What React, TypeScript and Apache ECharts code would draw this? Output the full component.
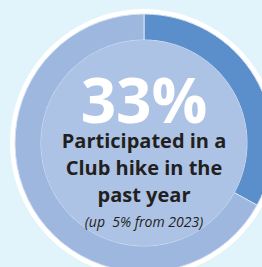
import React, { useEffect, useRef } from "react";
import * as echarts from "echarts";

const categories = ["Participated", "Did not participate"];
const values = [33, 67];
const headline = "33%";
const captionLines = ["Participated in a", "Club hike in the", "past year"];
const note = "(up  5% from 2023)";

export default function App() {
  const ref = useRef<HTMLDivElement>(null);
  useEffect(() => {
    if (!ref.current) return;
    const chart = echarts.init(ref.current, null, { renderer: "svg" });
    const cx = 144;
    const cy = 143;
    const font = "'Open Sans', 'Noto Sans', sans-serif";
    chart.setOption({
      animation: false,
      backgroundColor: "#e1f3fb",
      series: [
        {
          type: "pie",
          silent: true,
          center: [cx, cy],
          radius: [0, 134],
          label: { show: false },
          itemStyle: { color: "#ffffff" },
          data: [{ name: "border", value: 1 }],
          z: 1,
        },
        {
          type: "pie",
          silent: true,
          center: [cx, cy],
          radius: [103, 129],
          startAngle: 90,
          clockwise: true,
          label: { show: false },
          labelLine: { show: false },
          itemStyle: { borderColor: "#d6e2f2", borderWidth: 1 },
          data: categories.map((c, i) => ({
            name: c,
            value: values[i],
            itemStyle: { color: i === 0 ? "#5b8fcb" : "#9db7df" },
          })),
          z: 2,
        },
        {
          type: "pie",
          silent: true,
          center: [cx, cy],
          radius: [0, 103],
          label: { show: false },
          itemStyle: { color: "#adc3e5" },
          data: [{ name: "inner", value: 1 }],
          z: 3,
        },
      ],
      graphic: [
        {
          type: "text",
          x: cx,
          y: 99,
          z: 10,
          style: {
            text: headline,
            fill: "#ffffff",
            font: `bold 62px ${font}`,
            lineHeight: 46,
            textAlign: "center",
            textVerticalAlign: "middle",
          },
        },
        ...captionLines.map((t, i) => ({
          type: "text",
          x: cx,
          y: 140 + i * 27,
          z: 10,
          style: {
            text: t,
            fill: "#231f20",
            font: `bold 20px ${font}`,
            lineHeight: 22,
            textAlign: "center",
            textVerticalAlign: "middle",
          },
        })),
        {
          type: "text",
          x: cx,
          y: 221,
          z: 10,
          style: {
            text: note,
            fill: "#231f20",
            font: `italic 14px ${font}`,
            lineHeight: 16,
            textAlign: "center",
            textVerticalAlign: "middle",
          },
        },
      ],
    });
    return () => chart.dispose();
  }, []);
  return (
    <div
      ref={ref}
      style={{ position: "fixed", left: 0, top: 0, width: 262, height: 267 }}
    />
  );
}
